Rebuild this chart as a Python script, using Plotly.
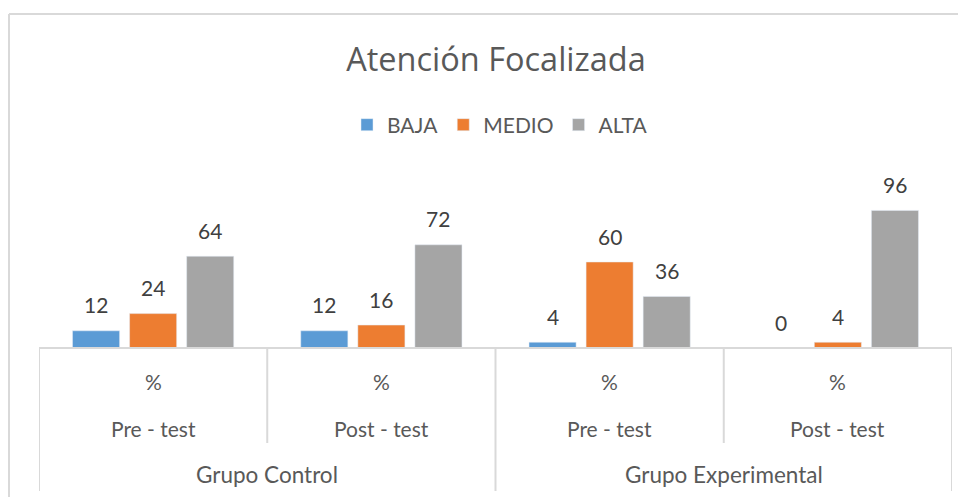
import plotly.graph_objects as go

categorias = ['%', '%', '%', '%']
momentos = ['Pre - test', 'Post - test', 'Pre - test', 'Post - test']
grupos = ['Grupo Control', 'Grupo Experimental']
series = ['BAJA', 'MEDIO', 'ALTA']
baja = [12, 12, 4, 0]
medio = [24, 16, 60, 4]
alta = [64, 72, 36, 96]
colores = ['#5B9BD5', '#ED7D31', '#A5A5A5']

off = 8  # margen del body en la pagina
W, H = 966 - off, 497 - off
# coordenadas en pixeles de pantalla
izq, der, arriba, abajo = 39, 952, 176, 348
alto_px = abajo - arriba
ancho_px = der - izq
gris_txt = '#595959'
gris_lin = '#D9D9D9'
fuente = 'Lato'


def py(pix):
    # pixel vertical -> coordenada paper
    return (abajo - pix) / alto_px


def px_(pix):
    return (pix - izq) / ancho_px


x = list(range(len(momentos)))
fig = go.Figure()
anots = []
for nombre, vals, col in zip(series, [baja, medio, alta], colores):
    fig.add_trace(go.Bar(x=x, y=vals, name=nombre, marker_color=col, cliponaxis=False))

# etiquetas de datos (desplazadas como en Excel)
for k, vals in enumerate([baja, medio, alta]):
    for i, v in enumerate(vals):
        anots.append(dict(x=i, y=v, xref='x', yref='y', text=str(v), showarrow=False,
                          xshift=(k - 1) * 57, yshift=26, yanchor='middle',
                          font=dict(size=21, color='#404040', family=fuente)))

shapes = []
# eje horizontal
shapes.append(dict(type='line', xref='paper', yref='paper', x0=0, x1=1, y0=0, y1=0,
                   line=dict(color=gris_lin, width=2)))
# separadores de categorias
for i in range(len(momentos) + 1):
    largo = py(491) if i % 2 == 0 else py(443)
    shapes.append(dict(type='line', xref='x', yref='paper', x0=i - 0.5, x1=i - 0.5,
                       y0=0, y1=largo, line=dict(color=gris_lin, width=2)))
# borde del grafico
shapes.append(dict(type='line', xref='paper', yref='paper', x0=px_(9), x1=px_(980),
                   y0=py(14), y1=py(14), line=dict(color=gris_lin, width=2)))
shapes.append(dict(type='line', xref='paper', yref='paper', x0=px_(9), x1=px_(9),
                   y0=py(14), y1=py(510), line=dict(color=gris_lin, width=2)))

for i, (c, m) in enumerate(zip(categorias, momentos)):
    anots.append(dict(x=i, y=py(381), xref='x', yref='paper', text=c, showarrow=False,
                      yanchor='middle', font=dict(size=21, color=gris_txt, family=fuente)))
    anots.append(dict(x=i, y=py(428), xref='x', yref='paper', text=m, showarrow=False,
                      yanchor='middle', font=dict(size=21, color=gris_txt, family=fuente)))
for j, g in enumerate(grupos):
    anots.append(dict(x=2 * j + 0.5, y=py(474), xref='x', yref='paper', text=g, showarrow=False,
                      yanchor='middle', font=dict(size=22.5, color=gris_txt, family=fuente)))

fig.update_layout(
    width=W, height=H,
    margin=dict(l=izq - off, r=W + off - der, t=arriba - off, b=H + off - abajo),
    paper_bgcolor='white', plot_bgcolor='white',
    title=dict(text='Atención Focalizada', x=(496 - off) / W, xanchor='center',
               y=1 - (60 - off) / H, yanchor='middle',
               font=dict(size=32.5, color=gris_txt, family='Open Sans')),
    legend=dict(orientation='h', x=px_(500), xanchor='center',
                y=py(125), yanchor='middle',
                font=dict(size=21, color=gris_txt, family=fuente), itemwidth=30,
                traceorder='normal'),
    barmode='group', bargap=0.25, bargroupgap=0.175,
    xaxis=dict(range=[-0.5, 3.5], showticklabels=False, showgrid=False, zeroline=False,
               fixedrange=True),
    yaxis=dict(range=[0, 120], visible=False, fixedrange=True),
    shapes=shapes, annotations=anots, showlegend=True,
)

fig.write_html('out.html')
